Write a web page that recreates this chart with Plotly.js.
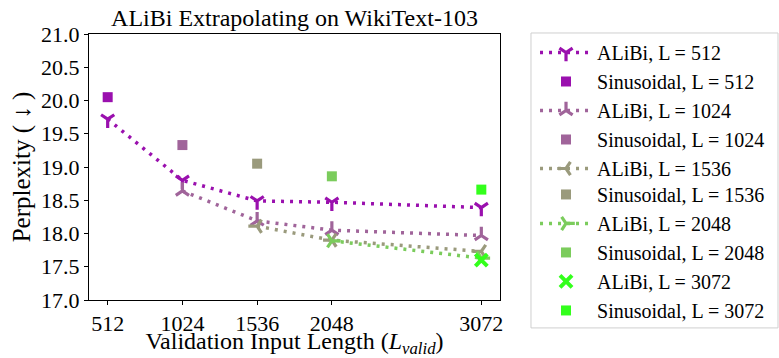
<!DOCTYPE html>
<html>
<head>
<meta charset="utf-8">
<script src="https://cdn.plot.ly/plotly-3.0.1.min.js"></script>
<style>html,body{margin:0;padding:0;background:#fff;}#chart{width:779px;height:358px;}</style>
</head>
<body>
<div id="chart"></div>
<script>
// Data
var tickVals = [512, 1024, 1536, 2048, 3072];
var tickText = ["512", "1024", "1536", "2048", "3072"];

var alibi512X = [512, 1024, 1536, 2048, 3072];
var alibi512Y = [19.72, 18.80, 18.49, 18.47, 18.39];
var alibi1024X = [1024, 1536, 2048, 3072];
var alibi1024Y = [18.64, 18.19, 18.05, 17.97];
var alibi1536X = [1536, 2048, 3072];
var alibi1536Y = [18.11, 17.90, 17.73];
var alibi2048X = [2048, 3072];
var alibi2048Y = [17.89, 17.63];
var alibi3072X = [3072];
var alibi3072Y = [17.60];

var sinusoidalL = [512, 1024, 1536, 2048, 3072];
var sinusoidalY = [20.05, 19.33, 19.05, 18.86, 18.66];

var trainLengths = ["512", "1024", "1536", "2048", "3072"];
var colors = ["#9a10ae", "#a0649a", "#9a9a7c", "#7bcc5c", "#33ff1c"];
var symbols = ["y-down-open", "y-up-open", "y-left-open", "y-right-open", "x-thin-open"];

var alibiX = [alibi512X, alibi1024X, alibi1536X, alibi2048X, alibi3072X];
var alibiY = [alibi512Y, alibi1024Y, alibi1536Y, alibi2048Y, alibi3072Y];

var serif = "'Liberation Serif', 'Times New Roman', Times, serif";
var traces = [];
var count = 0;
for (var i = 0; i < trainLengths.length; i++) {
  var isX = symbols[i] === "x-thin-open";
  traces.push({
    x: alibiX[i], y: alibiY[i],
    type: "scatter",
    mode: isX ? "markers" : "lines+markers",
    name: "ALiBi, L = " + trainLengths[i],
    legend: count < 5 ? "legend" : "legend2",
    line: {color: colors[i], width: 3.5, dash: "3px,6px"},
    marker: {symbol: symbols[i], size: isX ? 12 : 11, color: colors[i],
             line: {color: colors[i], width: isX ? 4 : 3.2}}
  });
  count++;
  traces.push({
    x: [sinusoidalL[i]], y: [sinusoidalY[i]],
    type: "scatter", mode: "markers",
    name: "Sinusoidal, L = " + trainLengths[i],
    legend: count < 5 ? "legend" : "legend2",
    marker: {symbol: "square", size: 10, color: colors[i]}
  });
  count++;
}

var legendCommon = {
  xanchor: "left", yanchor: "top", x: 1.0852,
  bgcolor: "rgba(0,0,0,0)", borderwidth: 0,
  font: {size: 20, family: serif, color: "#000"},
  itemwidth: 52, tracegroupgap: 0
};

var layout = {
  width: 779, height: 358,
  margin: {l: 89, r: 279, t: 34, b: 58, autoexpand: false},
  paper_bgcolor: "#fff", plot_bgcolor: "#fff",
  font: {family: serif, color: "#000", size: 20},
  title: {text: "ALiBi Extrapolating on WikiText-103", font: {family: serif, size: 24, color: "#000"},
          x: 0.5, xref: "paper", xanchor: "center", y: 0.952, yref: "container", yanchor: "middle"},
  xaxis: {
    range: [384, 3200], tickvals: tickVals, ticktext: tickText, automargin: false,
    showgrid: false, zeroline: false, showline: true, linecolor: "#000", linewidth: 1, mirror: true,
    ticks: "outside", ticklen: 4, tickcolor: "#000", tickfont: {size: 22, family: serif},
    title: {text: "Validation Input Length (<i>L</i><sub><i>valid</i></sub>)", font: {size: 24, family: serif}, standoff: 0}
  },
  yaxis: {
    range: [17.0, 21.0], dtick: 0.5, tick0: 17, tickformat: ".1f", automargin: false,
    showgrid: false, zeroline: false, showline: true, linecolor: "#000", linewidth: 1, mirror: true,
    ticks: "outside", ticklen: 4, tickcolor: "#000", tickfont: {size: 22, family: serif},
    title: {text: "Perplexity ( \u2193 )", font: {size: 25, family: serif}, standoff: 3}
  },
  showlegend: true,
  legend: Object.assign({}, legendCommon, {y: 1.0038}),
  legend2: Object.assign({}, legendCommon, {y: 0.4701}),
  shapes: [{
    type: "rect", xref: "paper", yref: "paper",
    x0: 1.0754, x1: 1.6764, y0: -0.105, y1: 1.0038,
    line: {color: "#cfcfcf", width: 1}, fillcolor: "rgba(0,0,0,0)", layer: "below"
  }]
};

Plotly.newPlot("chart", traces, layout, {displayModeBar: false, staticPlot: true});
</script>
</body>
</html>
